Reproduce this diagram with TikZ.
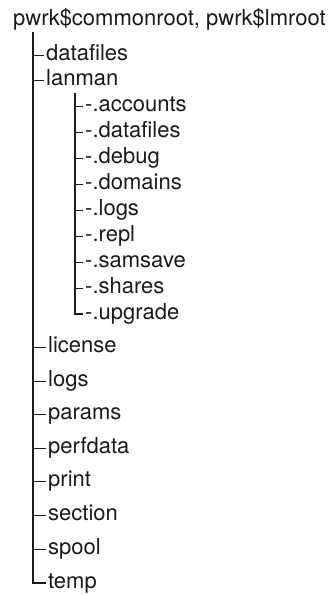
\documentclass[tikz,border=0pt]{standalone}
\usepackage{fontspec}
\setmainfont{TeX Gyre Heros}
\usetikzlibrary{calc}
\definecolor{inkcolor}{HTML}{1A1A1A}
\newcommand{\dirfont}{\fontsize{22}{26}\selectfont}
\tikzstyle{dirname} = [
    anchor=mid west,
    inner xsep=2pt,
    inner ysep=0pt,
    text=inkcolor
    ]
\tikzstyle{trunk} = [draw=inkcolor, line width=2.4pt]
\tikzstyle{branch} = [draw=inkcolor, line width=0.9pt]

\begin{document}
\begin{tikzpicture}[x=1pt, y=-1pt]
\dirfont % so that the mid anchors use the big ex
\useasboundingbox (0,0) rectangle (336,595);

\node[dirname] (root) at (11,20) {pwrk\$commonroot, pwrk\$lmroot};
\coordinate (top) at (33,32);

% first level
\node[dirname] (datafiles) at (44,55) {datafiles};
\node[dirname] (lanman) at (44,80) {lanman};
\coordinate (subtop) at (75,93);

% lanman subtree
\node[dirname] (accounts) at (83,106) {-.accounts};
\node[dirname] (ldatafiles) at (83,132) {-.datafiles};
\node[dirname] (debug) at (83,158) {-.debug};
\node[dirname] (domains) at (83,184) {-.domains};
\node[dirname] (llogs) at (83,210) {-.logs};
\node[dirname] (repl) at (83,236) {-.repl};
\node[dirname] (samsave) at (83,262) {-.samsave};
\node[dirname] (shares) at (83,288) {-.shares};
\node[dirname] (upgrade) at (83,314) {-.upgrade};

% rest of first level
\node[dirname] (license) at (46,347) {license};
\node[dirname] (logs) at (46,381) {logs};
\node[dirname] (params) at (46,414) {params};
\node[dirname] (perfdata) at (46,448) {perfdata};
\node[dirname] (print) at (46,481) {print};
\node[dirname] (section) at (46,515) {section};
\node[dirname] (spool) at (46,549) {spool};
\node[dirname] (temp) at (46,583) {temp};

\draw[branch] (datafiles.mid west -| top) -- (datafiles.mid west);
\draw[branch] (lanman.mid west -| top) -- (lanman.mid west);
\draw[branch] (license.mid west -| top) -- (license.mid west);
\draw[branch] (logs.mid west -| top) -- (logs.mid west);
\draw[branch] (params.mid west -| top) -- (params.mid west);
\draw[branch] (perfdata.mid west -| top) -- (perfdata.mid west);
\draw[branch] (print.mid west -| top) -- (print.mid west);
\draw[branch] (section.mid west -| top) -- (section.mid west);
\draw[branch] (spool.mid west -| top) -- (spool.mid west);

\draw[branch] (accounts.mid west -| subtop) -- (accounts.mid west);
\draw[branch] (ldatafiles.mid west -| subtop) -- (ldatafiles.mid west);
\draw[branch] (debug.mid west -| subtop) -- (debug.mid west);
\draw[branch] (domains.mid west -| subtop) -- (domains.mid west);
\draw[branch] (llogs.mid west -| subtop) -- (llogs.mid west);
\draw[branch] (repl.mid west -| subtop) -- (repl.mid west);
\draw[branch] (samsave.mid west -| subtop) -- (samsave.mid west);
\draw[branch] (shares.mid west -| subtop) -- (shares.mid west);

\draw[trunk] (top) |- (temp.mid west);
\draw[trunk] (subtop) |- (upgrade.mid west);
\end{tikzpicture}
\end{document}
